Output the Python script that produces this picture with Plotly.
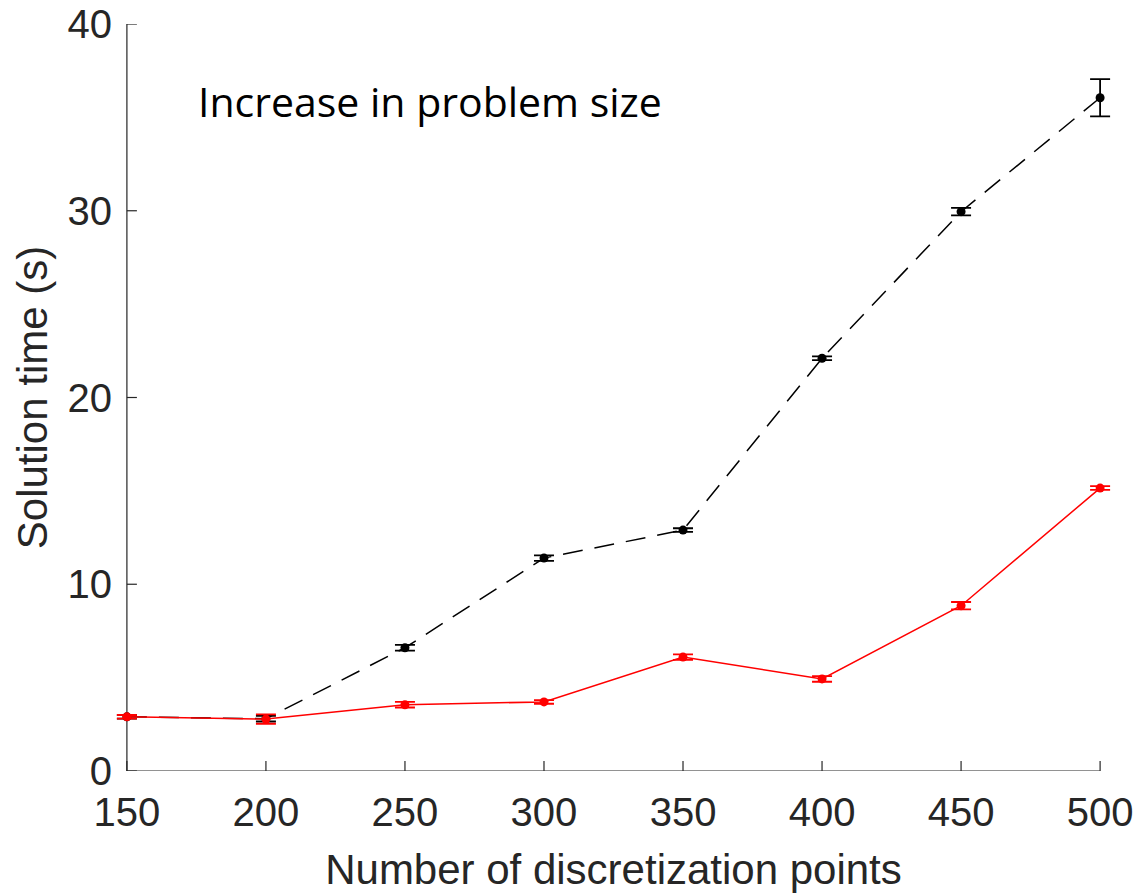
import plotly.graph_objects as go

# Discretization points (x) and mean solution times with error half-widths
points = [150, 200, 250, 300, 350, 400, 450, 500]

time_black = [2.9, 2.8, 6.6, 11.4, 12.9, 22.1, 29.95, 36.05]
err_black = [0.1, 0.15, 0.15, 0.15, 0.1, 0.1, 0.2, 1.0]

time_red = [2.9, 2.78, 3.55, 3.7, 6.1, 4.93, 8.85, 15.15]
err_red = [0.1, 0.25, 0.15, 0.1, 0.15, 0.15, 0.2, 0.1]

x_ticks = [150, 200, 250, 300, 350, 400, 450, 500]
y_ticks = [0, 10, 20, 30, 40]

X_MIN, X_MAX = 150, 500
Y_MIN, Y_MAX = 0, 40
PAD = 5  # small x padding so end-point error caps are not clipped

axis_color = "#262626"
tick_font = dict(family="Liberation Sans, Arial, sans-serif", size=40, color=axis_color)
title_font = dict(family="Liberation Sans, Arial, sans-serif", size=42, color=axis_color)

fig = go.Figure()

fig.add_trace(go.Scatter(
    x=points, y=time_black, mode="lines+markers",
    line=dict(color="black", width=1.5, dash="20px,12px"),
    marker=dict(color="black", size=9),
    error_y=dict(type="data", array=err_black, color="black", thickness=1.8, width=10),
    cliponaxis=False, showlegend=False,
))

fig.add_trace(go.Scatter(
    x=points, y=time_red, mode="lines+markers",
    line=dict(color="red", width=1.5),
    marker=dict(color="red", size=9),
    error_y=dict(type="data", array=err_red, color="red", thickness=1.8, width=10),
    cliponaxis=False, showlegend=False,
))

# Box-less axes: left and bottom spines spanning exactly the data limits
fig.add_shape(type="line", xref="x", yref="y", x0=X_MIN, x1=X_MAX, y0=Y_MIN, y1=Y_MIN,
              line=dict(color=axis_color, width=1.2), layer="below")
fig.add_shape(type="line", xref="x", yref="y", x0=X_MIN, x1=X_MIN, y0=Y_MIN, y1=Y_MAX,
              line=dict(color=axis_color, width=1.2), layer="below")

# Inward tick marks
for t in y_ticks:
    fig.add_shape(type="line", xref="x", yref="y", xsizemode="pixel", xanchor=X_MIN,
                  x0=0, x1=10, y0=t, y1=t, line=dict(color=axis_color, width=1.2), layer="below")
for t in x_ticks:
    fig.add_shape(type="line", xref="x", yref="y", ysizemode="pixel", yanchor=Y_MIN,
                  y0=0, y1=10, x0=t, x1=t, line=dict(color=axis_color, width=1.2), layer="below")

fig.add_annotation(
    x=175, y=35.9, xref="x", yref="y", xanchor="left", yanchor="middle",
    text="Increase in problem size", showarrow=False,
    font=dict(family="Open Sans, Noto Sans, sans-serif", size=41, color="black"),
)

fig.update_layout(
    width=1137, height=893,
    margin=dict(l=113, r=23, t=24, b=122),
    plot_bgcolor="white", paper_bgcolor="white",
)

fig.update_xaxes(
    range=[X_MIN - PAD, X_MAX + PAD], tickvals=x_ticks,
    ticks="outside", ticklen=6, tickcolor="rgba(0,0,0,0)", showline=False,
    showgrid=False, zeroline=False, tickfont=tick_font,
    automargin=False,
    title=dict(text="Number of discretization points", font=title_font, standoff=25),
)
fig.update_yaxes(
    range=[Y_MIN, Y_MAX], tickvals=y_ticks, ticks="", showline=False,
    showgrid=False, zeroline=False, tickfont=tick_font,
    automargin=False,
    title=dict(text="Solution time (s)", font=title_font, standoff=6),
)

fig.write_html("out.html")
